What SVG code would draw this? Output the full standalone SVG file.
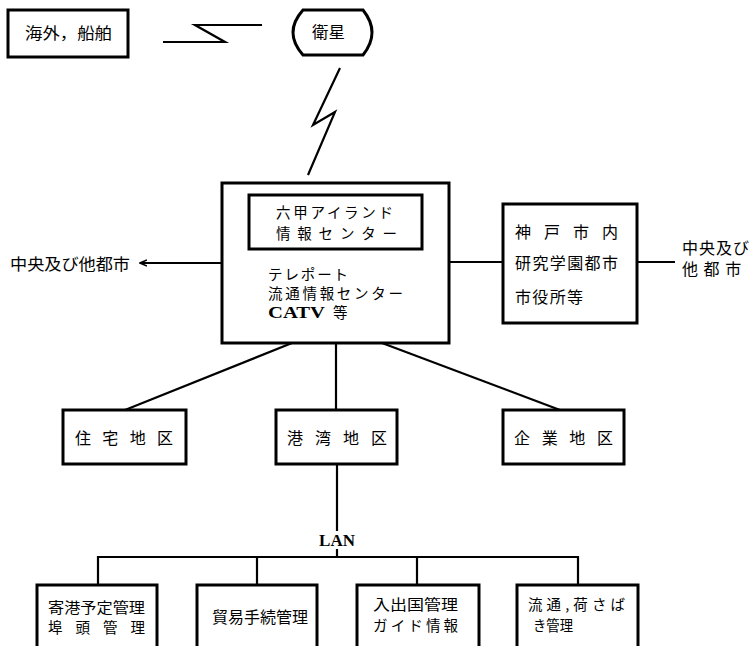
<svg xmlns="http://www.w3.org/2000/svg" width="754" height="646" viewBox="0 0 754 646">
<style>
.box{fill:#fff;stroke:#000;stroke-width:3}
.ln{fill:none;stroke:#000;stroke-width:2.2}
.t{font-family:"Noto Sans CJK JP","Noto Sans CJK SC",sans-serif;font-size:16px;fill:#000}
.m{font-size:14.5px}
.s{font-family:"Liberation Serif",serif;font-weight:bold;font-size:17px;fill:#000}
</style>
<defs>
<marker id="ah" markerWidth="8" markerHeight="8" refX="1" refY="4" orient="auto" markerUnits="userSpaceOnUse">
<path d="M8,1 L1,4 L8,7" fill="none" stroke="#000" stroke-width="1.5"/>
</marker>
</defs>
<rect width="754" height="646" fill="#fff"/>
<g id="connectors">
<polyline class="ln" points="163,42 225,42 195,25 262,25" stroke-width="2.5"/>
<polyline class="ln" points="340,68 313,125 335,112 308,175" stroke-width="2.5"/>
<line class="ln" x1="140" y1="263" x2="222" y2="263" marker-start="url(#ah)"/>
<line class="ln" x1="449" y1="262" x2="503" y2="262"/>
<line class="ln" x1="637" y1="262" x2="675" y2="262"/>
<line class="ln" x1="292" y1="343" x2="125" y2="410"/>
<line class="ln" x1="336" y1="343" x2="336" y2="410"/>
<line class="ln" x1="382" y1="343" x2="560" y2="410"/>
<line class="ln" x1="337" y1="464" x2="337" y2="531"/>
<line class="ln" x1="337" y1="549" x2="337" y2="557"/>
<polyline class="ln" points="98,585 98,557 578,557 578,585"/>
<line class="ln" x1="257" y1="557" x2="257" y2="585"/>
<line class="ln" x1="417" y1="557" x2="417" y2="585"/>
</g>
<g id="overseas">
<rect class="box" x="8" y="10" width="120" height="47"/>
<text class="t" x="25" y="39" font-size="17" textLength="87" lengthAdjust="spacingAndGlyphs">海外，船舶</text>
</g>
<g id="satellite">
<path class="box" d="M303,10 L363,10 Q381,32.5 363,55 L303,55 Q283,32.5 303,10 Z"/>
<text class="t" x="312" y="38" textLength="33" lengthAdjust="spacingAndGlyphs">衛星</text>
</g>
<g id="center">
<rect class="box" x="222" y="183" width="227" height="160"/>
<rect class="box" x="249" y="195" width="173" height="54"/>
<text class="t m" x="276" y="218" textLength="117" lengthAdjust="spacing">六甲アイランド</text>
<text class="t m" x="276" y="239" textLength="121" lengthAdjust="spacing">情報センター</text>
<text class="t m" x="268" y="280" textLength="80" lengthAdjust="spacing">テレポート</text>
<text class="t m" x="268" y="299" textLength="135" lengthAdjust="spacing">流通情報センター</text>
<text class="s" x="268" y="318" textLength="57" lengthAdjust="spacingAndGlyphs">CATV</text>
<text class="t m" x="333" y="318">等</text>
</g>
<g id="chuo-left">
<text class="t" x="10" y="270" font-size="17" textLength="120" lengthAdjust="spacingAndGlyphs">中央及び他都市</text>
</g>
<g id="kobe">
<rect class="box" x="503" y="204" width="134" height="119"/>
<text class="t" x="515" y="238" textLength="103" lengthAdjust="spacing">神 戸 市 内</text>
<text class="t" x="515" y="269" textLength="103" lengthAdjust="spacing">研究学園都市</text>
<text class="t" x="515" y="303" textLength="68" lengthAdjust="spacing">市役所等</text>
</g>
<g id="chuo-right">
<text class="t" x="682" y="254" font-size="13" letter-spacing="1">中央及び</text>
<text class="t" x="682" y="275" font-size="13" letter-spacing="1">他 都 市</text>
</g>
<g id="jutaku">
<rect class="box" x="63" y="410" width="123" height="54"/>
<text class="t" x="75" y="444" textLength="98" lengthAdjust="spacing">住 宅 地 区</text>
</g>
<g id="kowan">
<rect class="box" x="276" y="410" width="121" height="54"/>
<text class="t" x="287" y="444" textLength="100" lengthAdjust="spacing">港 湾 地 区</text>
</g>
<g id="kigyo">
<rect class="box" x="503" y="410" width="121" height="54"/>
<text class="t" x="514" y="444" textLength="99" lengthAdjust="spacing">企 業 地 区</text>
</g>
<g id="lan">
<text class="s" x="337" y="546" text-anchor="middle">LAN</text>
</g>
<g id="kiko">
<rect class="box" x="37" y="585" width="120" height="120"/>
<text class="t m" x="48" y="613" textLength="97" lengthAdjust="spacingAndGlyphs">寄港予定管理</text>
<text class="t m" x="48" y="633" textLength="97" lengthAdjust="spacing">埠 頭 管 理</text>
</g>
<g id="boeki">
<rect class="box" x="197" y="585" width="120" height="120"/>
<text class="t" x="212" y="623" textLength="96" lengthAdjust="spacingAndGlyphs">貿易手続管理</text>
</g>
<g id="nyushutsu">
<rect class="box" x="357" y="585" width="122" height="120"/>
<text class="t m" x="373" y="610" textLength="85" lengthAdjust="spacingAndGlyphs">入出国管理</text>
<text class="t m" x="373" y="631" textLength="85" lengthAdjust="spacing">ガイド情報</text>
</g>
<g id="ryutsu">
<rect class="box" x="517" y="585" width="121" height="120"/>
<text class="t m" x="528" y="610" textLength="97" lengthAdjust="spacing">流通,荷さば</text>
<text class="t m" x="533" y="631" textLength="40" lengthAdjust="spacingAndGlyphs">き管理</text>
</g>
</svg>
